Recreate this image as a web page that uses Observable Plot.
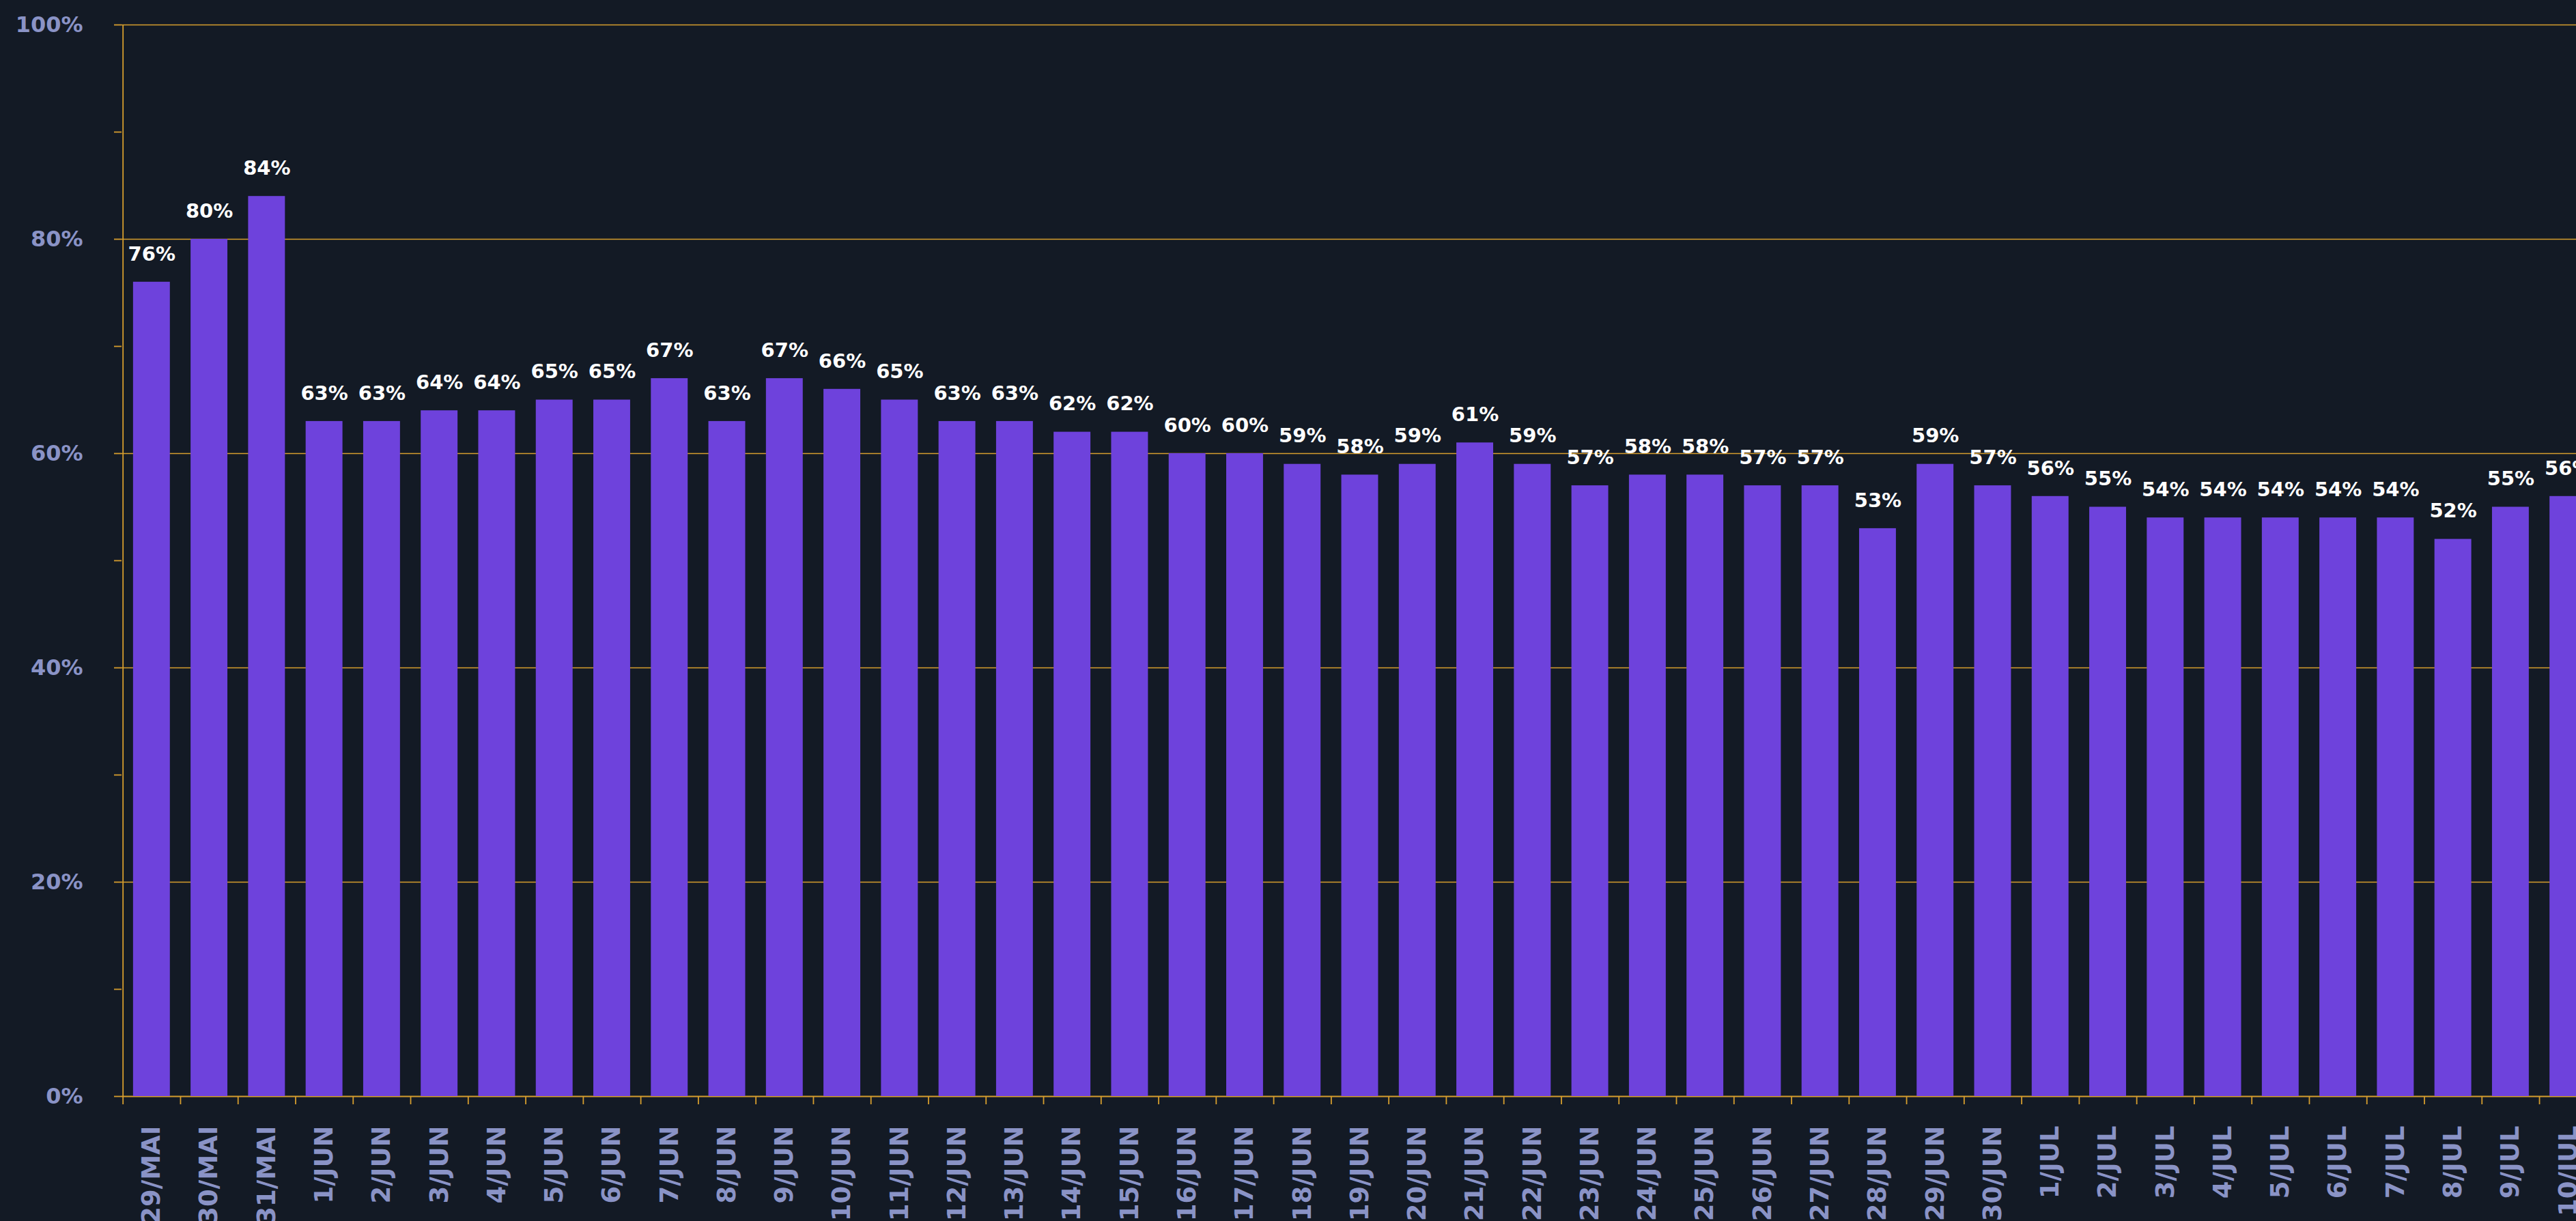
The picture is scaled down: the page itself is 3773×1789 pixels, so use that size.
<!DOCTYPE html>
<html>
<head>
<meta charset="utf-8">
<script src="https://cdn.jsdelivr.net/npm/d3@7"></script>
<script src="https://cdn.jsdelivr.net/npm/@observablehq/plot@0.6"></script>
<style>
  html, body { margin: 0; padding: 0; background: #131a25; overflow: hidden; }
  #chart svg { display: block; }
</style>
</head>
<body>
<div id="chart"></div>
<script>
// Categories (dates) and values (percent)
const dates = [
  "29/MAI", "30/MAI", "31/MAI",
  "1/JUN", "2/JUN", "3/JUN", "4/JUN", "5/JUN", "6/JUN", "7/JUN", "8/JUN", "9/JUN", "10/JUN",
  "11/JUN", "12/JUN", "13/JUN", "14/JUN", "15/JUN", "16/JUN", "17/JUN", "18/JUN", "19/JUN", "20/JUN",
  "21/JUN", "22/JUN", "23/JUN", "24/JUN", "25/JUN", "26/JUN", "27/JUN", "28/JUN", "29/JUN", "30/JUN",
  "1/JUL", "2/JUL", "3/JUL", "4/JUL", "5/JUL", "6/JUL", "7/JUL", "8/JUL", "9/JUL", "10/JUL"
];
const values = [
  76, 80, 84,
  63, 63, 64, 64, 65, 65, 67, 63, 67, 66,
  65, 63, 63, 62, 62, 60, 60, 59, 58, 59,
  61, 59, 57, 58, 58, 57, 57, 53, 59, 57,
  56, 55, 54, 54, 54, 54, 54, 52, 55, 56
];
const yTicks = [0, 10, 20, 30, 40, 50, 60, 70, 80, 90, 100];
const yLabelled = [0, 20, 40, 60, 80, 100];
const yGrid = [20, 40, 60, 80, 100];

const data = dates.map((d, i) => ({ date: d, value: values[i] }));

const BG = "#131a25";
const GOLD = "#d69e2e";
const PURPLE = "#6e42dc";
const AXIS_TEXT = "#8a93c6";
const FONT = "'DejaVu Sans', sans-serif";

const W = 3773, H = 1789;
const xRange = [178, 3805];
const pInner = 0.36, pOuter = 0.2;
const step = (xRange[1] - xRange[0]) / (dates.length - pInner + 2 * pOuter);

const chart = Plot.plot({
  width: W,
  height: H,
  marginLeft: 178,
  marginRight: 0,
  marginTop: 36,
  marginBottom: 183,
  style: { background: BG, fontFamily: FONT, color: AXIS_TEXT },
  x: { domain: dates, range: xRange, paddingInner: pInner, paddingOuter: pOuter, round: false, label: null, axis: null },
  y: { domain: [0, 100], label: null, axis: null },
  marks: [
    Plot.gridY(yGrid, { stroke: GOLD, strokeOpacity: 1, strokeWidth: 1.5 }),
    Plot.ruleY([0], { stroke: GOLD, strokeWidth: 1.8 }),
    Plot.ruleX([dates[0]], { dx: -step / 2, stroke: GOLD, strokeWidth: 1.8 }),
    Plot.ruleX(dates, { x: d => d, y1: 0, y2: 0, insetBottom: -12, dx: -step / 2, stroke: GOLD, strokeWidth: 1.8 }),
    Plot.barY(data, { x: "date", y: "value", fill: PURPLE }),
    Plot.text(data, {
      x: "date", y: "value", text: d => `${d.value}%`, dy: -41,
      fill: "#ffffff", fontSize: 29, fontWeight: 700, fontFamily: FONT
    }),
    Plot.axisY({
      ticks: yTicks, tickSize: 11, tickPadding: 46,
      tickFormat: d => (yLabelled.includes(d) ? `${d}%` : ""),
      stroke: GOLD, strokeWidth: 1.8, fill: AXIS_TEXT, fontSize: 32, fontWeight: 700, fontFamily: FONT,
      label: null
    }),
    Plot.axisX({
      tickSize: 0, tickPadding: 43, tickRotate: -90,
      fill: AXIS_TEXT, fontSize: 37, fontWeight: 700, fontFamily: FONT, label: null
    })
  ]
});
document.getElementById("chart").appendChild(chart);
</script>
</body>
</html>
